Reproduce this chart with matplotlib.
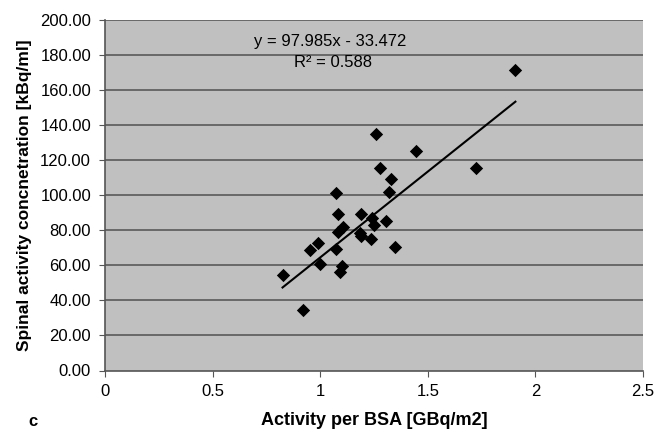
import matplotlib
matplotlib.use("Agg")
import matplotlib.pyplot as plt
import numpy as np

# Data
activity_bsa = [1.907, 1.260, 1.445, 1.724, 1.279, 1.329, 1.322, 1.073, 1.081, 1.191,
                1.240, 1.305, 1.248, 1.105, 1.085, 1.186, 1.191, 1.236, 0.992, 0.953,
                1.073, 1.349, 1.000, 1.101, 1.090, 0.825, 0.918]
spinal_conc = [171.5, 134.9, 125.2, 115.4, 115.4, 109.1, 101.7, 101.1, 89.3, 89.3,
               86.8, 85.5, 83.0, 82.1, 79.2, 78.6, 76.7, 74.9, 72.6, 68.8,
               69.2, 70.3, 60.8, 59.6, 56.4, 54.5, 34.5]
slope = 97.985
intercept = -33.472
r_squared = 0.588
x_ticks = [0, 0.5, 1, 1.5, 2, 2.5]
y_ticks = [0, 20, 40, 60, 80, 100, 120, 140, 160, 180, 200]

plt.rcParams['font.family'] = ['Liberation Sans', 'DejaVu Sans']

fig = plt.figure(figsize=(6.58, 4.37), dpi=100)
ax = fig.add_axes([105/658, (437-370.5)/437, (643-105)/658, (370.5-20)/437])
ax.set_facecolor('#c0c0c0')

for yt in y_ticks[1:]:
    ax.axhline(yt, color='#505050', lw=1.1, zorder=1)

ax.scatter(activity_bsa, spinal_conc, marker='D', s=46, color='black', zorder=3, linewidths=0)

xs = np.array([min(activity_bsa), max(activity_bsa)])
ax.plot(xs, slope * xs + intercept, color='black', lw=1.5, zorder=2)

ax.set_xlim(0, 2.5)
ax.set_ylim(0, 200)
ax.set_xticks(x_ticks)
ax.set_xticklabels([f"{t:g}" for t in x_ticks])
ax.set_yticks(y_ticks)
ax.set_yticklabels([f"{t:.2f}" for t in y_ticks])
ax.tick_params(axis='both', direction='out', length=4, color='#555555', labelsize=12, colors='black')
ax.tick_params(axis='x', pad=6)
ax.tick_params(axis='y', pad=6)
for s in ['top', 'right']:
    ax.spines[s].set_visible(False)
for s in ['left', 'bottom']:
    ax.spines[s].set_color('#555555')
    ax.spines[s].set_linewidth(1.2)

ax.text(1.045, 188, f"y = {slope:.3f}x - {abs(intercept):.3f}", ha='center', va='center', fontsize=12)
ax.text(1.06, 175.5, f"R² = {r_squared:.3f}", ha='center', va='center', fontsize=12)

ax.set_xlabel("Activity per BSA [GBq/m2]", fontsize=13, fontweight='bold', labelpad=9)
ax.set_ylabel("Spinal activity concnetration [kBq/ml]", fontsize=12.5, fontweight='bold', labelpad=6)
fig.text(28/658, 1 - 422/437, "c", fontsize=12, fontweight='bold', ha='left', va='center')

fig.savefig("out.png", dpi=100)
